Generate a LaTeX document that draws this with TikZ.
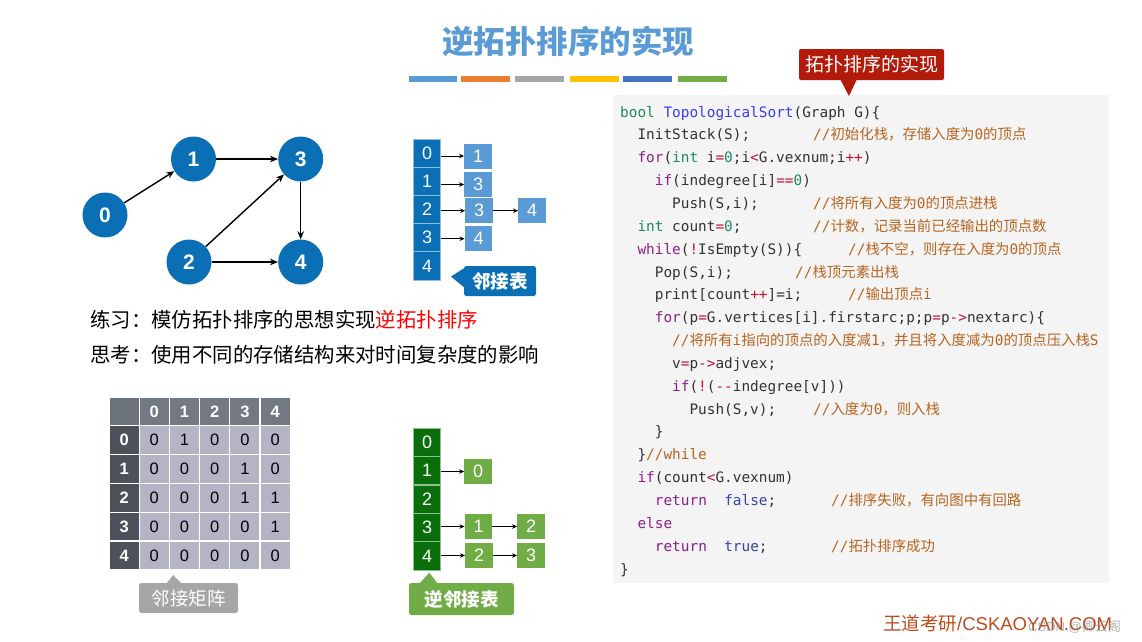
\documentclass[tikz,border=0pt]{standalone}
\usepackage{fontspec}
\setmainfont{Liberation Sans}
\newfontfamily\zhfont{Noto Sans CJK SC}
\newfontfamily\codefont{DejaVu Sans Mono}
\usetikzlibrary{arrows.meta}
\definecolor{nodeblue}{HTML}{0A6FB4}
\definecolor{lightblue}{HTML}{5B9BD5}
\definecolor{darkgreen}{HTML}{0A6E0A}
\definecolor{lightgreen}{HTML}{70AD47}
\definecolor{mhead}{HTML}{737983}
\definecolor{mcorner}{HTML}{6C727A}
\definecolor{mrow}{HTML}{4D525A}
\definecolor{mdata}{HTML}{B5B4C4}
\definecolor{lblgray}{HTML}{A6A6A6}
\definecolor{codebg}{HTML}{F4F4F4}
\definecolor{calloutred}{HTML}{B21A0A}
\definecolor{barorange}{HTML}{ED7D31}
\definecolor{bargray}{HTML}{A5A5A5}
\definecolor{bargold}{HTML}{FFC000}
\definecolor{barblue}{HTML}{4472C4}
\definecolor{codegray}{HTML}{333333}
\definecolor{cty}{HTML}{1E8A5A}
\definecolor{cfn}{HTML}{3C3CE8}
\definecolor{ckw}{HTML}{8C1E8C}
\definecolor{cop}{HTML}{C8102E}
\definecolor{ccm}{HTML}{B8641E}
\definecolor{clt}{HTML}{3544A8}
\definecolor{wmark}{HTML}{BF4A1C}
\newcommand\Z[1]{{\zhfont #1}}
\newcommand\cty[1]{\textcolor{cty}{#1}}
\newcommand\cfn[1]{\textcolor{cfn}{#1}}
\newcommand\ckw[1]{\textcolor{ckw}{#1}}
\newcommand\cop[1]{\textcolor{cop}{#1}}
\newcommand\cnm[1]{\textcolor{cty}{#1}}
\newcommand\ccm[1]{\textcolor{ccm}{#1}}
\newcommand\clt[1]{\textcolor{clt}{#1}}
\begin{document}
\begin{tikzpicture}[x=1pt,y=-1pt,
  gnode/.style={circle,fill=nodeblue,minimum size=45pt,inner sep=0pt,text=white,font=\fontsize{21}{21}\selectfont\bfseries},
  garrow/.style={line width=1.4pt,-{Stealth[length=8pt,width=6.5pt]}},
  larrow/.style={line width=1pt,-{Stealth[length=5pt,width=4.5pt]}},
  acell/.style={rectangle,fill=nodeblue,draw=white!55!nodeblue,line width=0.8pt,minimum width=27pt,minimum height=28.2pt,inner sep=0pt,text=white,font=\fontsize{18}{18}\selectfont},
  gcell/.style={acell,fill=darkgreen,draw=white!55!darkgreen},
  bedge/.style={rectangle,fill=lightblue,minimum width=27.5pt,minimum height=25pt,inner sep=0pt,text=white,font=\fontsize{18}{18}\selectfont},
  gedge/.style={bedge,fill=lightgreen},
  mcell/.style={rectangle,draw=white,line width=1.2pt,minimum width=30.2pt,minimum height=28.8pt,inner sep=0pt,font=\fontsize{16.5}{16.5}\selectfont},
  code/.style={anchor=base west,inner sep=0pt,text=codegray,font=\codefont\fontsize{14.4}{17}\selectfont},
  cmt/.style={code,text=ccm},
  lbltext/.style={text=white,font=\zhfont\fontsize{18.5}{18.5}\selectfont\bfseries,inner sep=0pt}
]
\useasboundingbox (0,0) rectangle (1142,641);

% title
\node[text=lightblue,font=\zhfont\fontsize{31.5}{31.5}\selectfont\bfseries] (title) at (568,41) {逆拓扑排序的实现};
\fill[lightblue] (409,76) rectangle (457,82);
\fill[barorange] (461,76) rectangle (510,82);
\fill[bargray] (515,76) rectangle (564,82);
\fill[bargold] (570,76) rectangle (619,82);
\fill[barblue] (623,76) rectangle (672,82);
\fill[lightgreen] (678,76) rectangle (727,82);

% graph
\node[gnode] (n0) at (105,215) {0};
\node[gnode] (n1) at (193.5,159) {1};
\node[gnode] (n3) at (300.7,159) {3};
\node[gnode] (n2) at (189,262) {2};
\node[gnode] (n4) at (300.7,262) {4};
\draw[garrow] (n0) -- (n1);
\draw[garrow] (n1) -- (n3);
\draw[garrow] (n2) -- (n3);
\draw[garrow] (n2) -- (n4);
\draw[garrow] (n3) -- (n4);

% adjacency list
\node[acell] (a0) at (427,153.1) {0};
\node[acell] (a1) at (427,181.3) {1};
\node[acell] (a2) at (427,209.5) {2};
\node[acell] (a3) at (427,237.7) {3};
\node[acell] (a4) at (427,265.9) {4};
\node[bedge] (e01) at (478,156) {1};
\node[bedge] (e13) at (478,184.5) {3};
\node[bedge] (e23) at (479,210.7) {3};
\node[bedge] (e24) at (532,210.7) {4};
\node[bedge] (e34) at (478.5,238.7) {4};
\draw[larrow] (a0.east |- e01.west) -- (e01.west);
\draw[larrow] (a1.east |- e13.west) -- (e13.west);
\draw[larrow] (a2.east |- e23.west) -- (e23.west);
\draw[larrow] (e23.east) -- (e24.west);
\draw[larrow] (a3.east |- e34.west) -- (e34.west);
\fill[nodeblue,rounded corners=2.5pt] (464,266) rectangle (536,296);
\fill[nodeblue] (466,267) -- (451,276.5) -- (466,289) -- cycle;
\node[lbltext] (lbl1) at (500,281) {邻接表};

% practice text
\node[anchor=west,inner sep=0pt,font=\zhfont\fontsize{20.4}{20.4}\selectfont] (prac) at (90,320) {练习：模仿拓扑排序的思想实现\textcolor{red}{逆拓扑排序}};
\node[anchor=west,inner sep=0pt,font=\zhfont\fontsize{20.4}{20.4}\selectfont] (think) at (90,355) {思考：使用不同的存储结构来对时间复杂度的影响};

% matrix
\node[mcell,fill=mcorner] (m-h-h) at (124.1,411.4) {};
\foreach \c in {0,...,4}{
  \node[mcell,fill=mhead,text=white,font=\fontsize{16.5}{16.5}\selectfont\bfseries] (m-h-\c) at (154.3+\c*30.2,411.4) {\c};
  \node[mcell,fill=mrow,text=white,font=\fontsize{16.5}{16.5}\selectfont\bfseries] (m-\c-h) at (124.1,440.2+\c*28.8) {\c};
}
\foreach \r/\row in {0/{0,1,0,0,0},1/{0,0,0,1,0},2/{0,0,0,1,1},3/{0,0,0,0,1},4/{0,0,0,0,0}}{
  \foreach \v [count=\c from 0] in \row {
    \node[mcell,fill=mdata,text=black] (m-\r-\c) at (154.3+\c*30.2,440.2+\r*28.8) {\v};
  }
}
\fill[lblgray,rounded corners=2.5pt] (139,583) rectangle (238,613);
\fill[lblgray] (166,584) -- (173.3,575) -- (182,584) -- cycle;
\node[lbltext,font=\zhfont\fontsize{18.5}{18.5}\selectfont] (lbl2) at (188.5,598) {邻接矩阵};

% inverse adjacency list
\node[gcell] (b0) at (427,442.2) {0};
\node[gcell] (b1) at (427,470.6) {1};
\node[gcell] (b2) at (427,499) {2};
\node[gcell] (b3) at (427,527.4) {3};
\node[gcell] (b4) at (427,555.8) {4};
\node[gedge] (f10) at (478,471.5) {0};
\node[gedge] (f31) at (478.5,526.5) {1};
\node[gedge] (f32) at (531,526.5) {2};
\node[gedge] (f42) at (479,555.5) {2};
\node[gedge] (f43) at (531,555.5) {3};
\draw[larrow] (b1.east |- f10.west) -- (f10.west);
\draw[larrow] (b3.east |- f31.west) -- (f31.west);
\draw[larrow] (f31.east) -- (f32.west);
\draw[larrow] (b4.east |- f42.west) -- (f42.west);
\draw[larrow] (f42.east) -- (f43.west);
\fill[lightgreen,rounded corners=2.5pt] (409,583) rectangle (514,615);
\fill[lightgreen] (419,584) -- (429.3,572.7) -- (438,584) -- cycle;
\node[lbltext] (lbl3) at (461.5,599) {逆邻接表};

% code
\fill[codebg] (613,95) rectangle (1109,583);
\fill[calloutred,rounded corners=2pt] (799,49) rectangle (944,80);
\fill[calloutred] (840,79) -- (849,96) -- (857,79) -- cycle;
\node[text=white,font=\zhfont\fontsize{19}{19}\selectfont,inner sep=0pt] (callout) at (871.5,64.5) {拓扑排序的实现};

\node[code] (c1) at (620,117) {\cty{bool} \cfn{TopologicalSort}(Graph G)\{};
\node[code] (c2) at (637.3,139.9) {InitStack(S);};
\node[cmt] (k2) at (813,139.9) {//\Z{初始化栈，存储入度为}0\Z{的顶点}};
\node[code] (c3) at (637.3,162.7) {\ckw{for}(\cty{int} i\cop{=}\cnm{0};i\cop{<}G.vexnum;i\cop{++})};
\node[code] (c4) at (654.7,185.6) {\ckw{if}(indegree[i]\cop{==}\cnm{0})};
\node[code] (c5) at (672,208.4) {Push(S,i);};
\node[cmt] (k5) at (813,208.4) {//\Z{将所有入度为}0\Z{的顶点进栈}};
\node[code] (c6) at (637.3,231.3) {\cty{int} count\cop{=}\cnm{0};};
\node[cmt] (k6) at (813,231.3) {//\Z{计数，记录当前已经输出的顶点数}};
\node[code] (c7) at (637.3,254.1) {\ckw{while}(\cop{!}IsEmpty(S))\{};
\node[cmt] (k7) at (848,254.1) {//\Z{栈不空，则存在入度为}0\Z{的顶点}};
\node[code] (c8) at (654.7,277) {Pop(S,i);};
\node[cmt] (k8) at (795,277) {//\Z{栈顶元素出栈}};
\node[code] (c9) at (654.7,299.8) {print[count\cop{++}]=i;};
\node[cmt] (k9) at (848,299.8) {//\Z{输出顶点}i};
\node[code] (c10) at (654.7,322.7) {\ckw{for}(p\cop{=}G.vertices[i].firstarc;p;p\cop{=}p\cop{->}nextarc)\{};
\node[cmt] (k11) at (672,345.5) {//\Z{将所有}i\Z{指向的顶点的入度减}1\Z{，并且将入度减为}0\Z{的顶点压入栈}S};
\node[code] (c12) at (672,368.4) {v\cop{=}p\cop{->}adjvex;};
\node[code] (c13) at (672,391.2) {\ckw{if}(\cop{!}(\cop{-{}-}indegree[v]))};
\node[code] (c14) at (689.3,414.1) {Push(S,v);};
\node[cmt] (k14) at (813,414.1) {//\Z{入度为}0\Z{，则入栈}};
\node[code] (c15) at (654.7,436.9) {\}};
\node[code] (c16) at (637.3,459.8) {\}\ccm{//while}};
\node[code] (c17) at (637.3,482.6) {\ckw{if}(count\cop{<}G.vexnum)};
\node[code] (c18) at (654.7,505.5) {\ckw{return}\ \ \clt{false};};
\node[cmt] (k18) at (831,505.5) {//\Z{排序失败，有向图中有回路}};
\node[code] (c19) at (637.3,528.3) {\ckw{else}};
\node[code] (c20) at (654.7,551.2) {\ckw{return}\ \ \clt{true};};
\node[cmt] (k20) at (831,551.2) {//\Z{拓扑排序成功}};
\node[code] (c21) at (620,574) {\}};

% watermark
\node[anchor=west,inner sep=0pt,text=wmark,font=\fontsize{18.5}{18.5}\selectfont] (wm) at (883,623) {\Z{王道考研}/CSKAOYAN.COM};
\node[anchor=west,inner sep=0pt,text=gray,opacity=0.6,font=\fontsize{13}{13}\selectfont] (csdn) at (1028,627) {CSDN @\Z{卿云阁}};
\end{tikzpicture}
\end{document}
